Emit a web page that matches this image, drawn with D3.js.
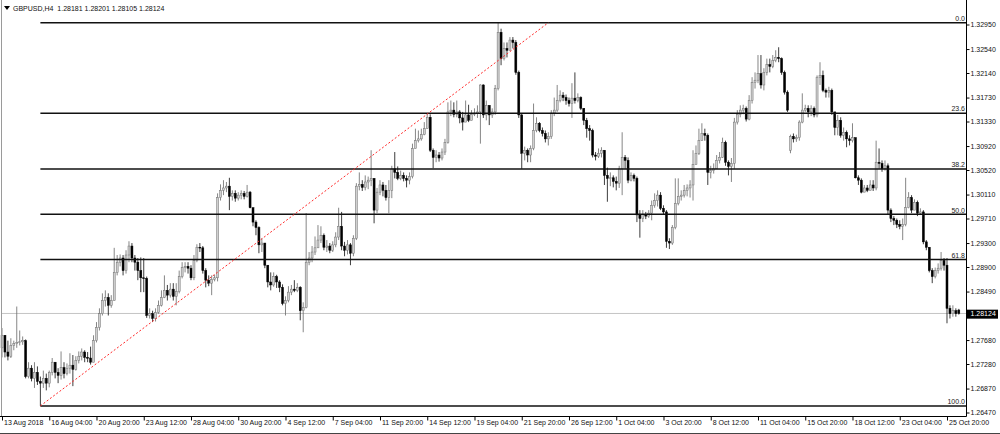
<!DOCTYPE html>
<html><head><meta charset="utf-8">
<script src="https://cdn.jsdelivr.net/npm/d3@7"></script>
<style>
html,body{margin:0;padding:0;background:#fff;}
svg{display:block;}
</style></head><body>
<svg id="chart" width="1000" height="434"></svg>
<script>
const symbolTitle = "GBPUSD,H4";
const lastOHLC = [1.28181, 1.28201, 1.28105, 1.28124];
const currentPrice = 1.28124;
const timeLabels = ["13 Aug 2018","16 Aug 04:00","20 Aug 20:00","23 Aug 12:00","28 Aug 04:00","30 Aug 20:00","4 Sep 12:00","7 Sep 04:00","11 Sep 20:00","14 Sep 12:00","19 Sep 04:00","21 Sep 20:00","26 Sep 12:00","1 Oct 04:00","3 Oct 20:00","8 Oct 12:00","11 Oct 04:00","15 Oct 20:00","18 Oct 12:00","23 Oct 04:00","25 Oct 20:00"];
const timeLabelBars = [0,16,32,48,64,80,96,112,128,144,160,176,192,208,224,240,256,272,288,304,320];
const priceTicks = [1.32950,1.32540,1.32140,1.31730,1.31330,1.30920,1.30520,1.30110,1.29710,1.29300,1.28900,1.28490,1.27680,1.27280,1.26870,1.26470];

const closes = [
1.2776,1.2748,1.2741,1.2759,1.2762,1.2764,1.2765,1.2767,1.2707,1.2721,1.2704,1.2714,1.2699,1.2696,1.2704,1.2696,
1.2714,1.2731,1.2714,1.2709,1.2722,1.2712,1.2721,1.2726,1.2719,1.2734,1.2741,1.2748,1.2739,1.2738,1.2731,1.2767,
1.2789,1.2812,1.2834,1.2839,1.2826,1.2834,1.2881,1.2898,1.2905,1.2884,1.2910,1.2925,1.2905,1.2898,1.2884,1.2872,
1.2871,1.2809,1.2812,1.2804,1.2814,1.2826,1.2839,1.2851,1.2843,1.2853,1.2841,1.2849,1.2874,1.2889,1.2891,1.2888,
1.2872,1.2901,1.2923,1.2922,1.2884,1.2868,1.2863,1.2869,1.2872,1.3006,1.3018,1.3022,1.3025,1.3008,1.3013,1.3005,
1.3010,1.3013,1.3008,1.3015,1.2989,1.2965,1.2956,1.2927,1.2930,1.2893,1.2865,1.2860,1.2874,1.2865,1.2856,1.2829,
1.2834,1.2848,1.2853,1.2851,1.2856,1.2817,1.2822,1.2898,1.2905,1.2915,1.2922,1.2935,1.2943,1.2923,1.2925,1.2918,
1.2927,1.2940,1.2958,1.2925,1.2918,1.2927,1.2913,1.2938,1.3025,1.3028,1.3023,1.3032,1.3035,1.3038,1.2985,1.3015,
1.3027,1.3018,1.3006,1.3018,1.3054,1.3048,1.3038,1.3043,1.3038,1.3035,1.3041,1.3088,1.3101,1.3104,1.3111,1.3121,
1.3140,1.3085,1.3073,1.3077,1.3072,1.3082,1.3098,1.3149,1.3152,1.3145,1.3149,1.3139,1.3132,1.3144,1.3135,1.3145,
1.3147,1.3149,1.3194,1.3144,1.3160,1.3144,1.3149,1.3188,1.3282,1.3238,1.3255,1.3252,1.3269,1.3265,1.3215,1.3144,
1.3080,1.3085,1.3077,1.3088,1.3118,1.3130,1.3118,1.3113,1.3104,1.3108,1.3147,1.3152,1.3168,1.3177,1.3173,1.3168,
1.3163,1.3172,1.3168,1.3173,1.3155,1.3135,1.3121,1.3118,1.3077,1.3075,1.3080,1.3085,1.3043,1.3038,1.3039,1.3033,
1.3030,1.3054,1.3073,1.3068,1.3035,1.3043,1.3038,1.2977,1.2971,1.2978,1.2975,1.2980,1.2993,1.3001,1.3010,1.2988,
1.2982,1.2933,1.2930,1.2956,1.2996,1.3008,1.3010,1.3018,1.3022,1.3027,1.3061,1.3080,1.3101,1.3113,1.3110,1.3048,
1.3051,1.3054,1.3068,1.3073,1.3098,1.3065,1.3058,1.3063,1.3132,1.3145,1.3152,1.3155,1.3137,1.3168,1.3198,1.3202,
1.3213,1.3194,1.3215,1.3228,1.3225,1.3235,1.3240,1.3238,1.3215,1.3182,1.3152,1.3108,1.3104,1.3106,1.3132,1.3152,
1.3155,1.3149,1.3155,1.3144,1.3207,1.3210,1.3185,1.3182,1.3185,1.3149,1.3123,1.3135,1.3110,1.3115,1.3104,1.3101,
1.3106,1.3039,1.3035,1.3015,1.3022,1.3018,1.3027,1.3022,1.3065,1.3063,1.3054,1.3059,1.2985,1.2971,1.2968,1.2961,
1.2958,1.2961,1.2989,1.3006,1.2985,1.2998,1.2980,1.2982,1.2932,1.2923,1.2884,1.2874,1.2884,1.2888,1.2901,1.2893,
1.2821,1.2812,1.2817,1.2812,1.28124];

const highs = [
1.2788,1.2776,1.2767,1.2771,1.2767,1.2824,1.2784,1.2774,1.2769,1.2731,1.2726,1.2731,1.2724,1.2707,1.2717,1.2712,
1.2717,1.2738,1.2731,1.2721,1.2749,1.2731,1.2729,1.2746,1.2743,1.2741,1.2749,1.2754,1.2751,1.2748,1.2757,1.2776,
1.2798,1.2821,1.2846,1.2851,1.2846,1.2843,1.2922,1.2910,1.2911,1.2910,1.2918,1.2933,1.2930,1.2910,1.2905,1.2906,
1.2905,1.2874,1.2821,1.2817,1.2821,1.2834,1.2851,1.2876,1.2860,1.2863,1.2863,1.2863,1.2884,1.2898,1.2898,1.2898,
1.2893,1.2910,1.2928,1.2930,1.2925,1.2888,1.2876,1.2876,1.2877,1.3013,1.3028,1.3035,1.3032,1.3039,1.3018,1.3018,
1.3015,1.3018,1.3017,1.3027,1.3017,1.2989,1.2968,1.2958,1.2938,1.2930,1.2893,1.2881,1.2881,1.2877,1.2868,1.2861,
1.2841,1.2858,1.2860,1.2868,1.2863,1.2858,1.2831,1.2980,1.2915,1.2925,1.2941,1.2960,1.2958,1.2946,1.2935,1.2930,
1.2933,1.2948,1.2989,1.2982,1.2932,1.2935,1.2930,1.2943,1.3030,1.3048,1.3035,1.3043,1.3041,1.3085,1.3038,1.3022,
1.3035,1.3032,1.3027,1.3035,1.3059,1.3082,1.3058,1.3051,1.3048,1.3043,1.3048,1.3096,1.3121,1.3118,1.3121,1.3132,
1.3147,1.3145,1.3088,1.3085,1.3082,1.3088,1.3104,1.3165,1.3168,1.3165,1.3168,1.3152,1.3149,1.3168,1.3161,1.3152,
1.3155,1.3160,1.3195,1.3195,1.3168,1.3160,1.3155,1.3194,1.3298,1.3288,1.3265,1.3265,1.3274,1.3274,1.3269,1.3218,
1.3147,1.3091,1.3088,1.3093,1.3163,1.3140,1.3132,1.3123,1.3118,1.3115,1.3152,1.3173,1.3194,1.3185,1.3182,1.3178,
1.3173,1.3197,1.3215,1.3180,1.3175,1.3155,1.3139,1.3127,1.3121,1.3082,1.3088,1.3090,1.3085,1.3056,1.3048,1.3043,
1.3041,1.3059,1.3115,1.3077,1.3073,1.3048,1.3046,1.3041,1.2985,1.2985,1.2982,1.2985,1.3001,1.3013,1.3018,1.3015,
1.2993,1.2985,1.2938,1.2960,1.3038,1.3038,1.3018,1.3027,1.3028,1.3035,1.3085,1.3093,1.3121,1.3130,1.3121,1.3113,
1.3059,1.3063,1.3077,1.3082,1.3106,1.3101,1.3068,1.3072,1.3139,1.3152,1.3160,1.3161,1.3158,1.3177,1.3207,1.3215,
1.3244,1.3244,1.3222,1.3238,1.3238,1.3244,1.3252,1.3257,1.3240,1.3218,1.3185,1.3111,1.3113,1.3111,1.3135,1.3180,
1.3161,1.3160,1.3160,1.3158,1.3210,1.3232,1.3218,1.3188,1.3191,1.3188,1.3149,1.3144,1.3140,1.3123,1.3118,1.3110,
1.3130,1.3106,1.3043,1.3038,1.3027,1.3027,1.3035,1.3035,1.3101,1.3088,1.3068,1.3068,1.3063,1.2988,1.2975,1.2971,
1.2968,1.2971,1.3039,1.3015,1.3010,1.3003,1.3001,1.2988,1.2985,1.2935,1.2923,1.2888,1.2889,1.2896,1.2915,1.2905,
1.2905,1.2826,1.2826,1.2821,1.28201];

const lows = [
1.2739,1.2739,1.2734,1.2738,1.2751,1.2755,1.2759,1.2760,1.2704,1.2704,1.2699,1.2688,1.2693,1.2658,1.2688,1.2684,
1.2689,1.2709,1.2704,1.2696,1.2702,1.2704,1.2709,1.2712,1.2691,1.2717,1.2729,1.2734,1.2731,1.2731,1.2727,1.2731,
1.2764,1.2784,1.2809,1.2824,1.2809,1.2822,1.2834,1.2876,1.2891,1.2876,1.2879,1.2898,1.2898,1.2884,1.2868,1.2848,
1.2848,1.2805,1.2804,1.2798,1.2799,1.2812,1.2824,1.2838,1.2834,1.2839,1.2834,1.2826,1.2846,1.2871,1.2881,1.2879,
1.2868,1.2868,1.2898,1.2915,1.2879,1.2856,1.2858,1.2843,1.2866,1.2866,1.3001,1.3010,1.3015,1.2985,1.3001,1.2999,
1.3001,1.3003,1.3003,1.3006,1.2988,1.2958,1.2943,1.2913,1.2915,1.2888,1.2856,1.2851,1.2857,1.2855,1.2848,1.2826,
1.2809,1.2831,1.2843,1.2848,1.2848,1.2801,1.2781,1.2821,1.2893,1.2898,1.2910,1.2922,1.2930,1.2918,1.2915,1.2913,
1.2915,1.2923,1.2935,1.2918,1.2908,1.2911,1.2893,1.2908,1.2935,1.3018,1.3017,1.3018,1.3020,1.3025,1.2963,1.2980,
1.3010,1.3008,1.3001,1.2980,1.3005,1.3038,1.3035,1.3035,1.3033,1.3023,1.3028,1.3038,1.3088,1.3098,1.3101,1.3110,
1.3121,1.3082,1.3055,1.3065,1.3066,1.3068,1.3077,1.3096,1.3142,1.3140,1.3140,1.3130,1.3118,1.3132,1.3132,1.3137,
1.3142,1.3139,1.3096,1.3139,1.3135,1.3127,1.3139,1.3144,1.3185,1.3227,1.3235,1.3240,1.3252,1.3255,1.3211,1.3139,
1.3054,1.3068,1.3065,1.3065,1.3085,1.3115,1.3115,1.3108,1.3098,1.3093,1.3104,1.3142,1.3149,1.3165,1.3167,1.3161,
1.3158,1.3139,1.3163,1.3165,1.3152,1.3127,1.3106,1.3101,1.3073,1.3068,1.3072,1.3073,1.3027,1.2999,1.3025,1.3023,
1.3018,1.3022,1.3010,1.3054,1.3030,1.3033,1.3033,1.2965,1.2939,1.2965,1.2970,1.2972,1.2968,1.2989,1.2991,1.2985,
1.2977,1.2922,1.2920,1.2927,1.2953,1.2993,1.3001,1.3006,1.3008,1.3006,1.3001,1.3061,1.3077,1.3101,1.3101,1.3027,
1.3038,1.3046,1.3059,1.3063,1.3072,1.3059,1.3043,1.3032,1.3054,1.3128,1.3140,1.3145,1.3133,1.3135,1.3163,1.3188,
1.3197,1.3188,1.3185,1.3210,1.3215,1.3222,1.3232,1.3232,1.3211,1.3178,1.3149,1.3080,1.3098,1.3099,1.3101,1.3130,
1.3149,1.3140,1.3142,1.3140,1.3140,1.3194,1.3182,1.3173,1.3173,1.3144,1.3110,1.3110,1.3106,1.3101,1.3090,1.3093,
1.3098,1.3038,1.3027,1.3013,1.3015,1.3015,1.3018,1.3017,1.3018,1.3054,1.3049,1.3051,1.2977,1.2965,1.2960,1.2955,
1.2953,1.2935,1.2958,1.2988,1.2980,1.2985,1.2975,1.2977,1.2928,1.2918,1.2881,1.2863,1.2871,1.2879,1.2884,1.2884,
1.2796,1.2804,1.2807,1.2807,1.28105];

// opens follow the previous close except where a gap is visible
const gapOpens = {0: 1.2755, 267: 1.3085, 324: 1.28181};

const fibLevels = [0, 23.6, 38.2, 50, 61.8, 100];
const fibLow = 1.2658, fibHigh = 1.3298;
const fibStartBar = 13, fibEndBar = 185;

const FONT = '"Liberation Sans", Arial, sans-serif';
const plotRight = 966.5, axisY = 416.5;
const svg = d3.select('#chart');

const x = d3.scaleLinear().domain([0, closes.length - 1]).range([2, 958.8]);
const y = d3.scaleLinear().domain([1.26470, 1.32950]).range([412.5, 24.5]);

svg.append('rect').attr('width', 1000).attr('height', 434).attr('fill', '#fff');

// current price line (behind)
svg.append('line').attr('x1', 2).attr('x2', plotRight).attr('y1', y(currentPrice)).attr('y2', y(currentPrice))
  .attr('stroke', '#c4c4c4').attr('stroke-width', 1);

const candles = closes.map((c, i) => {
  const o = (i in gapOpens) ? gapOpens[i] : closes[i - 1];
  return {i, o, c, h: Math.max(highs[i], o, c), l: Math.min(lows[i], o, c), bull: c >= o};
});

const gC = svg.append('g');
gC.selectAll('line.wick').data(candles).join('line').attr('class', 'wick')
  .attr('x1', d => x(d.i)).attr('x2', d => x(d.i))
  .attr('y1', d => y(d.h)).attr('y2', d => y(d.l))
  .attr('stroke', d => d.bull ? '#707070' : '#1a1a1a').attr('stroke-width', 0.85);
gC.selectAll('rect.body').data(candles).join('rect').attr('class', 'body')
  .attr('x', d => x(d.i) - 1.0).attr('width', 2.0)
  .attr('y', d => y(Math.max(d.o, d.c)))
  .attr('height', d => Math.max(0.8, Math.abs(y(d.o) - y(d.c))))
  .attr('fill', d => d.bull ? '#d0d0d0' : '#000')
  .attr('stroke', d => d.bull ? '#707070' : '#000').attr('stroke-width', 0.5);

// Fibonacci levels
const fibX1 = x(Math.min(fibStartBar, fibEndBar));
const fibPrice = lv => fibHigh - (fibHigh - fibLow) * lv / 100;
const gF = svg.append('g');
gF.selectAll('line').data(fibLevels).join('line')
  .attr('x1', fibX1).attr('x2', plotRight)
  .attr('y1', d => y(fibPrice(d))).attr('y2', d => y(fibPrice(d)))
  .attr('stroke', '#111').attr('stroke-width', 1.5);
gF.selectAll('text').data(fibLevels).join('text')
  .attr('x', 965).attr('y', d => y(fibPrice(d)) - 1.8)
  .attr('text-anchor', 'end').attr('font-family', FONT).attr('font-size', 7).attr('fill', '#222')
  .text(d => d3.format('.1f')(d));

// trend line of the fib tool
svg.append('line')
  .attr('x1', x(fibStartBar)).attr('y1', y(fibLow))
  .attr('x2', x(fibEndBar)).attr('y2', y(fibHigh))
  .attr('stroke', '#ff2a2a').attr('stroke-width', 1).attr('stroke-dasharray', '2,2');

// frame
svg.append('line').attr('x1', 1.5).attr('x2', 1.5).attr('y1', 0).attr('y2', axisY).attr('stroke', '#9a9a9a');
svg.append('line').attr('x1', plotRight).attr('x2', plotRight).attr('y1', 0).attr('y2', axisY).attr('stroke', '#000');
svg.append('line').attr('x1', 0).attr('x2', plotRight).attr('y1', axisY).attr('y2', axisY).attr('stroke', '#000');
svg.append('line').attr('x1', 0).attr('x2', 1000).attr('y1', 433.5).attr('y2', 433.5).attr('stroke', '#444');

// price axis
const gy = svg.append('g').attr('transform', `translate(${plotRight},0)`)
  .call(d3.axisRight(y).tickValues(priceTicks).tickSize(3).tickPadding(1).tickFormat(d3.format('.5f')));
gy.select('.domain').remove();
gy.attr('font-size', 7).attr('font-family', FONT);
gy.selectAll('text').attr('fill', '#111');

// current price label
const cy = y(currentPrice);
svg.append('rect').attr('x', 967).attr('y', cy - 3.8).attr('width', 31).attr('height', 9).attr('fill', '#000');
svg.append('text').attr('x', 970.5).attr('y', cy + 0.7).attr('dy', '0.32em').attr('font-family', FONT)
  .attr('font-size', 7).attr('fill', '#fff').text(d3.format('.5f')(currentPrice));

// time axis
const gx = svg.append('g').attr('transform', `translate(0,${axisY})`)
  .call(d3.axisBottom(x).tickValues(timeLabelBars).tickSize(4)
    .tickFormat((d, k) => timeLabels[k]));
gx.select('.domain').remove();
gx.attr('font-size', 7).attr('font-family', FONT);
gx.selectAll('text').attr('text-anchor', 'start').attr('x', 1.5).attr('y', 4).attr('dy', '0.71em').attr('fill', '#111');

// title
svg.append('path').attr('d', 'M4,6 L10,6 L7,10 Z').attr('fill', '#000');
svg.append('text').attr('x', 13).attr('y', 10.5).attr('font-family', FONT).attr('font-size', 7).attr('fill', '#111')
  .text(symbolTitle + '\u00a0\u00a0' + lastOHLC.map(d3.format('.5f')).join(' '));
</script>
</body></html>
